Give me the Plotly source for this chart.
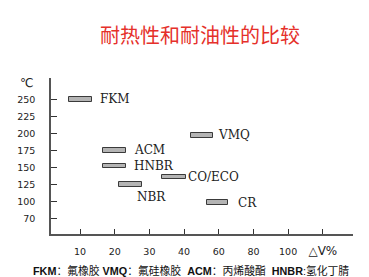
import plotly.graph_objects as go

# ---- data ----
materials = ["FKM", "VMQ", "ACM", "HNBR", "CO/ECO", "NBR", "CR"]
temp_c = [250, 197, 175, 152, 136, 125, 98]          # heat resistance (°C)
swell_start = [6.8, 42.0, 16.7, 16.7, 33.5, 21.2, 46.5]  # oil swell range start (axis units)
swell_end = [13.4, 48.4, 23.3, 23.3, 40.5, 27.8, 52.7]   # oil swell range end

x_tickvals = [10, 20, 30, 40, 50, 60, 70, 80]
x_ticktext = ["10", "20", "30", "40", "60", "80", "100",
              "<span style='font-size:12px'>△V%</span>"]
y_tickvals = [75, 100, 125, 150, 175, 200, 225, 250]
y_ticktext = ["70", "100", "125", "150", "175", "200", "225", "250"]

title_text = "耐热性和耐油性的比较"
note_text = ("<b>FKM</b>：氟橡胶 <b>VMQ</b>：氟硅橡胶  <b>ACM</b>：丙烯酸酯  "
             "<b>HNBR</b>:氢化丁腈")

# ---- figure ----
widths = [e - s for s, e in zip(swell_start, swell_end)]
fig = go.Figure()
fig.add_trace(go.Bar(
    orientation="h", y=temp_c, x=widths, base=swell_start, width=6.5,
    marker=dict(color="#b4b4b4", line=dict(color="#3a3a3a", width=1)),
    hoverinfo="skip", showlegend=False,
))

label_font = dict(family="DejaVu Serif", size=12, color="#222222")
xshift = {"FKM": 6, "VMQ": 3, "ACM": 6, "HNBR": 6, "CO/ECO": 0, "CR": 8}
for m, t, s, e in zip(materials, temp_c, swell_start, swell_end):
    if m == "NBR":
        fig.add_annotation(x=(s + e) / 2, y=t, text=m, showarrow=False,
                           xanchor="left", yanchor="top", xshift=5, yshift=-4,
                           font=label_font)
    else:
        fig.add_annotation(x=e, y=t, text=m, showarrow=False, xanchor="left",
                           yanchor="middle", xshift=xshift.get(m, 5), font=label_font)

fig.add_annotation(xref="paper", yref="paper", x=0.493, y=1.282, text=title_text,
                   showarrow=False, xanchor="center", yanchor="middle",
                   font=dict(family="Noto Sans CJK SC", size=20, color="#e5302a"))
fig.add_annotation(xref="paper", yref="paper", x=-0.08, y=0.968, text="℃",
                   showarrow=False, xanchor="center", yanchor="middle",
                   font=dict(family="DejaVu Sans", size=12, color="#222222"))
fig.add_annotation(xref="paper", yref="paper", x=0.465, y=-0.231, text=note_text,
                   showarrow=False, xanchor="center", yanchor="middle",
                   font=dict(family="Liberation Sans, Noto Sans CJK SC", size=10.8,
                             color="#111111"))

fig.update_layout(
    width=369, height=277,
    margin=dict(l=51, r=16, t=78, b=43),
    paper_bgcolor="white", plot_bgcolor="white",
    bargap=0,
    xaxis=dict(range=[1.64, 88.7], tickvals=x_tickvals, ticktext=x_ticktext,
               showgrid=False, zeroline=False, showline=True, linecolor="#555555",
               linewidth=1.5, ticks="inside", ticklen=5, tickcolor="#333333",
               tickwidth=1, ticklabelstandoff=8,
               tickfont=dict(family="DejaVu Sans", size=9.5, color="#222222")),
    yaxis=dict(range=[52, 281.3], tickvals=y_tickvals, ticktext=y_ticktext,
               showgrid=False, zeroline=False, showline=True, linecolor="#555555",
               linewidth=1.5, ticks="inside", ticklen=6, tickcolor="#333333",
               tickwidth=1, ticklabelstandoff=12,
               tickfont=dict(family="DejaVu Sans", size=9.5, color="#222222")),
)

fig.write_html("out.html")
